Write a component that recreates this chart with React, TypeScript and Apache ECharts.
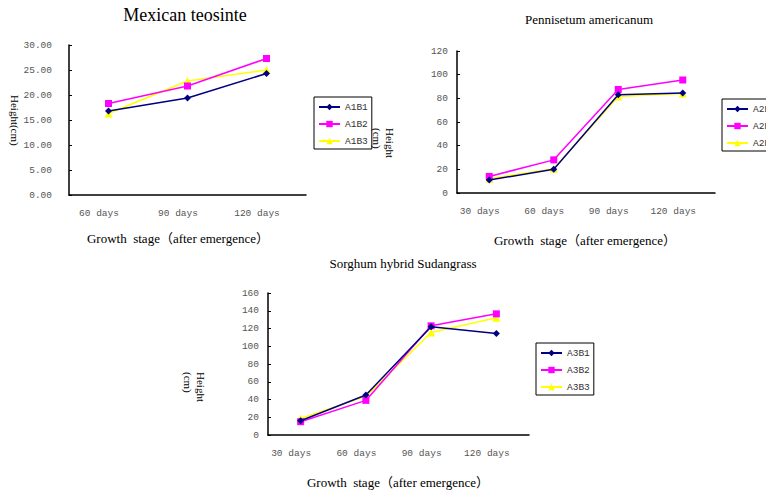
import React, { useEffect, useRef } from "react";
import * as echarts from "echarts";

const cats1 = ["60 days", "90 days", "120 days"];
const cats2 = ["30 days", "60 days", "90 days", "120 days"];
const cats3 = ["30 days", "60 days", "90 days", "120 days"];

const names1 = ["A1B1", "A1B2", "A1B3"];
const names2 = ["A2B1", "A2B2", "A2B3"];
const names3 = ["A3B1", "A3B2", "A3B3"];

const A1B1 = [16.8, 19.4, 24.3];
const A1B2 = [18.3, 21.8, 27.3];
const A1B3 = [16.3, 22.8, 25.0];

const A2B1 = [11, 20, 83, 84.5];
const A2B2 = [14, 28, 87.5, 95.5];
const A2B3 = [12, 20.5, 81.5, 84];

const A3B1 = [16, 45, 122, 114.5];
const A3B2 = [15, 39, 123, 136.5];
const A3B3 = [18.5, 43.5, 115.5, 132];

const titles = ["Mexican teosinte", "Pennisetum americanum", "Sorghum hybrid Sudangrass"];
const xName = "Growth  stage\uFF08after emergence\uFF09";

const colors = ["#000080", "#FF00FF", "#FFFF00"];
const symbols = ["diamond", "rect", "triangle"];
const symbolSizes = [7, 7, 8];

const MONO = "'Liberation Mono', 'DejaVu Sans Mono', monospace";
const SERIF = "'Liberation Serif', 'Noto Sans CJK SC', serif";

export default function App() {
  const ref = useRef<HTMLDivElement>(null);
  useEffect(() => {
    if (!ref.current) return;
    const chart = echarts.init(ref.current, undefined, { renderer: "svg" });

    const grids = [
      { left: 69, top: 45, width: 237, height: 150 },
      { left: 457, top: 51, width: 258, height: 142 },
      { left: 268, top: 293, width: 261, height: 142 },
    ];
    const catsAll = [cats1, cats2, cats3];
    const yMax = [30, 120, 160];
    const yInt = [5, 20, 20];
    const yMargin = [17, 9, 9];

    const xAxes = catsAll.map((c, i) => ({
      type: "category",
      gridIndex: i,
      data: c,
      boundaryGap: true,
      axisLine: { lineStyle: { color: "#000", width: 1.5 } },
      axisTick: { inside: true, length: 4, lineStyle: { color: "#000" } },
      axisLabel: {
        interval: 0,
        margin: 13,
        color: "#555",
        fontFamily: MONO,
        fontSize: 9.5,
        padding: [0, 19, 0, 0],
      },
      splitLine: { show: false },
    }));

    const yAxes = yMax.map((m, i) => ({
      type: "value",
      gridIndex: i,
      min: 0,
      max: m,
      interval: yInt[i],
      axisLine: { show: true, lineStyle: { color: "#000", width: 1.5 } },
      axisTick: { show: true, inside: true, length: 3, lineStyle: { color: "#000" } },
      axisLabel: {
        margin: yMargin[i],
        color: "#555",
        fontFamily: MONO,
        fontSize: 9.5,
        formatter: i === 0 ? (v: number) => v.toFixed(2) : (v: number) => String(v),
      },
      splitLine: { show: false },
    }));

    const dataSets = [
      [A1B1, A1B2, A1B3],
      [A2B1, A2B2, A2B3],
      [A3B1, A3B2, A3B3],
    ];
    const namesAll = [names1, names2, names3];
    const series: any[] = [];
    dataSets.forEach((set, gi) => {
      set.forEach((d, si) => {
        series.push({
          type: "line",
          name: namesAll[gi][si],
          xAxisIndex: gi,
          yAxisIndex: gi,
          data: d,
          symbol: symbols[si],
          symbolSize: symbolSizes[si],
          showAllSymbol: true,
          lineStyle: { color: colors[si], width: 1.5 },
          itemStyle: { color: colors[si] },
          z: 3 - si,
        });
      });
    });

    const legendPos = [
      { left: 314, top: 97 },
      { left: 722, top: 99 },
      { left: 536, top: 343 },
    ];
    const legends = namesAll.map((n, i) => ({
      data: n,
      orient: "vertical",
      left: legendPos[i].left,
      top: legendPos[i].top,
      borderColor: "#000",
      borderWidth: 1,
      padding: [5, 4, 3, 4],
      itemWidth: 21,
      itemHeight: 8,
      itemGap: 7,
      textStyle: { fontFamily: MONO, fontSize: 9.5, color: "#333" },
    }));

    const titleOpts = [
      { text: titles[0], left: 185, top: 6, fontSize: 18 },
      { text: titles[1], left: 589, top: 13, fontSize: 13 },
      { text: titles[2], left: 403, top: 257, fontSize: 13 },
    ].map((t) => ({
      text: t.text,
      left: t.left,
      top: t.top,
      textAlign: "center",
      padding: 0,
      textStyle: { fontFamily: SERIF, fontSize: t.fontSize, fontWeight: "normal", color: "#000" },
    }));

    const graphics: any[] = [
      { type: "text", x: 178, y: 238, style: { text: xName, align: "center", verticalAlign: "middle", font: `13px ${SERIF}`, fill: "#000" } },
      { type: "text", x: 585, y: 240, style: { text: xName, align: "center", verticalAlign: "middle", font: `13px ${SERIF}`, fill: "#000" } },
      { type: "text", x: 398, y: 482, style: { text: xName, align: "center", verticalAlign: "middle", font: `13px ${SERIF}`, fill: "#000" } },
      { type: "text", x: 15, y: 95, rotation: -Math.PI / 2, style: { text: "Height(cm)", align: "left", verticalAlign: "middle", font: `11px ${SERIF}`, fill: "#000" } },
      { type: "text", x: 383.5, y: 128, rotation: -Math.PI / 2, style: { text: "Height\n(cm)", align: "left", verticalAlign: "middle", lineHeight: 13, font: `11px ${SERIF}`, fill: "#000" } },
      { type: "text", x: 194, y: 372, rotation: -Math.PI / 2, style: { text: "Height\n(cm)", align: "left", verticalAlign: "middle", lineHeight: 13, font: `11px ${SERIF}`, fill: "#000" } },
    ];

    chart.setOption({
      animation: false,
      backgroundColor: "#fff",
      title: titleOpts,
      grid: grids,
      xAxis: xAxes,
      yAxis: yAxes,
      legend: legends,
      series,
      graphic: graphics,
    } as any);

    return () => chart.dispose();
  }, []);

  return (
    <div
      ref={ref}
      style={{ position: "fixed", left: 0, top: 0, width: 766, height: 490, background: "#fff" }}
    />
  );
}
